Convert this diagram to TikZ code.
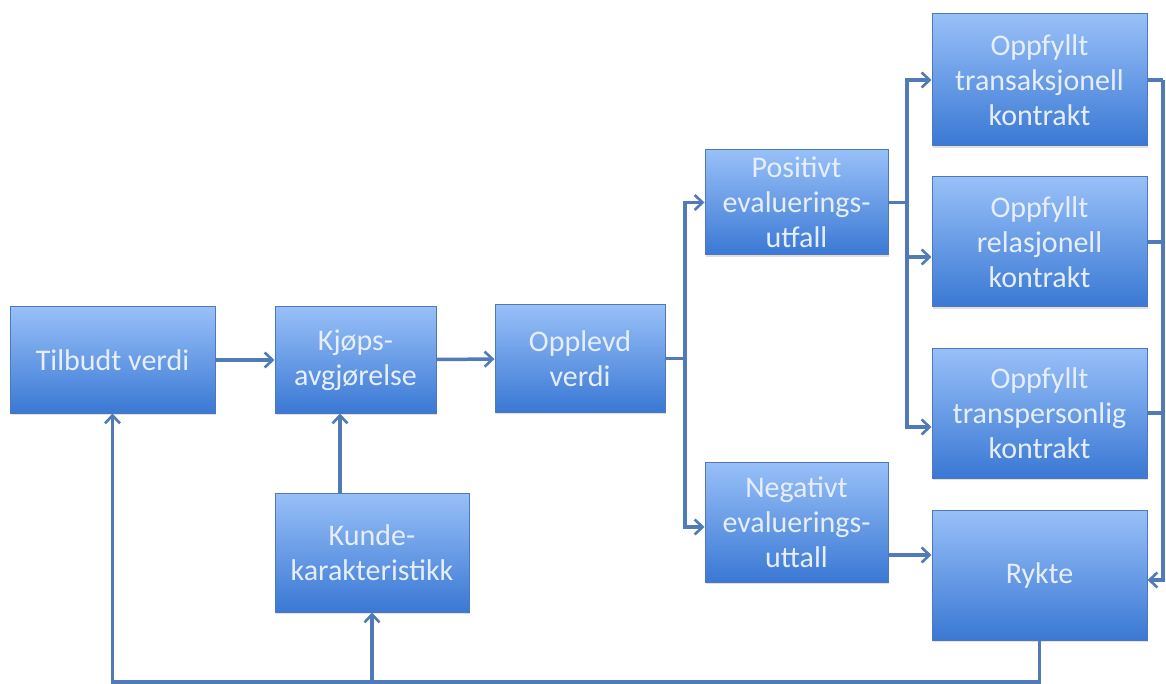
\documentclass[tikz,border=0pt]{standalone}
\usepackage{fontspec}
\setmainfont{Carlito}
\usepackage{tikz}
\usetikzlibrary{arrows.meta}
\usetikzlibrary{shadows}

\definecolor{boksTopp}{RGB}{152,192,248}
\definecolor{boksBunn}{RGB}{58,120,212}
\definecolor{kant}{RGB}{78,120,184}
\definecolor{linjefarge}{RGB}{80,122,184}
\definecolor{tekstfarge}{RGB}{230,238,250}

\begin{document}
\begin{tikzpicture}[x=1pt,y=-1pt,
  boks/.style={draw=kant,line width=1pt,top color=boksTopp,bottom color=boksBunn,
    drop shadow={opacity=.25,shadow xshift=1pt,shadow yshift=-2pt},
    text=tekstfarge,align=center,inner sep=0pt,
    font=\fontsize{30}{35}\selectfont},
  linje/.style={draw=linjefarge,line width=3.5pt},
  pil/.style={linje,-{Straight Barb[length=8pt,width=15pt,line width=2.6pt]}}]
  \useasboundingbox (0,0) rectangle (1166,684);
  \node[boks,minimum width=205pt,minimum height=106pt] (tilbud) at (112.5,360) {Tilbudt verdi};
  \node[boks,minimum width=161pt,minimum height=106pt] (kjop) at (355.5,360) {Kjøps-\\avgjørelse};
  \node[boks,minimum width=170pt,minimum height=107pt] (opplevd) at (580,358.5) {Opplevd\\verdi};
  \node[boks,minimum width=194pt,minimum height=119pt] (kunde) at (372,552.5) {Kunde-\\karakteristikk};
  \node[boks,minimum width=183pt,minimum height=105pt] (positiv) at (796.5,202.5) {Positivt\\evaluerings-\\utfall};
  \node[boks,minimum width=183pt,minimum height=120pt] (negativ) at (796.5,522) {Negativt\\evaluerings-\\uttall};
  \node[boks,minimum width=215pt,minimum height=132pt] (trans) at (1039.5,80) {Oppfyllt\\transaksjonell\\kontrakt};
  \node[boks,minimum width=215pt,minimum height=130pt] (rel) at (1039.5,242) {Oppfyllt\\relasjonell\\kontrakt};
  \node[boks,minimum width=215pt,minimum height=130pt] (transp) at (1039.5,413) {Oppfyllt\\transpersonlig\\kontrakt};
  \node[boks,minimum width=215pt,minimum height=130pt] (rykte) at (1039.5,575) {Rykte};
  \coordinate (gren1) at (685,358.5);
  \coordinate (gren2) at (907,202.5);
  \coordinate (hoyre) at (1163,0);
  \coordinate (bunn) at (0,682);
  \draw[pil] (tilbud) -- (kjop);
  \draw[pil] (kjop) -- (opplevd);
  \draw[pil] (kunde.north -| 340,0) -- (kjop.south -| 340,0);
  \draw[linje] (opplevd.east) -- (gren1);
  \draw[pil] (gren1) |- (positiv.west);
  \draw[pil] (gren1) |- ([yshift=-5pt]negativ.west);
  \draw[linje] (positiv.east) -- (gren2);
  \draw[pil] (gren2) |- (trans.west);
  \draw[pil] (gren2) |- ([yshift=-15pt]rel.west);
  \draw[pil] (gren2) |- ([yshift=-14pt]transp.west);
  \draw[pil] ([yshift=-33pt]negativ.east) -- ([yshift=20pt]rykte.west);
  \draw[linje] (trans.east) -- (trans.east -| hoyre);
  \draw[linje] (rel.east) -- (rel.east -| hoyre);
  \draw[linje] (transp.east) -- (transp.east -| hoyre);
  \draw[pil] (trans.east -| hoyre) |- ([yshift=-5pt]rykte.east);
  \draw[pil] (rykte.south) |- (bunn -| tilbud) -- (tilbud.south);
  \draw[pil] (kunde.south |- bunn) -- (kunde.south);
\end{tikzpicture}
\end{document}
